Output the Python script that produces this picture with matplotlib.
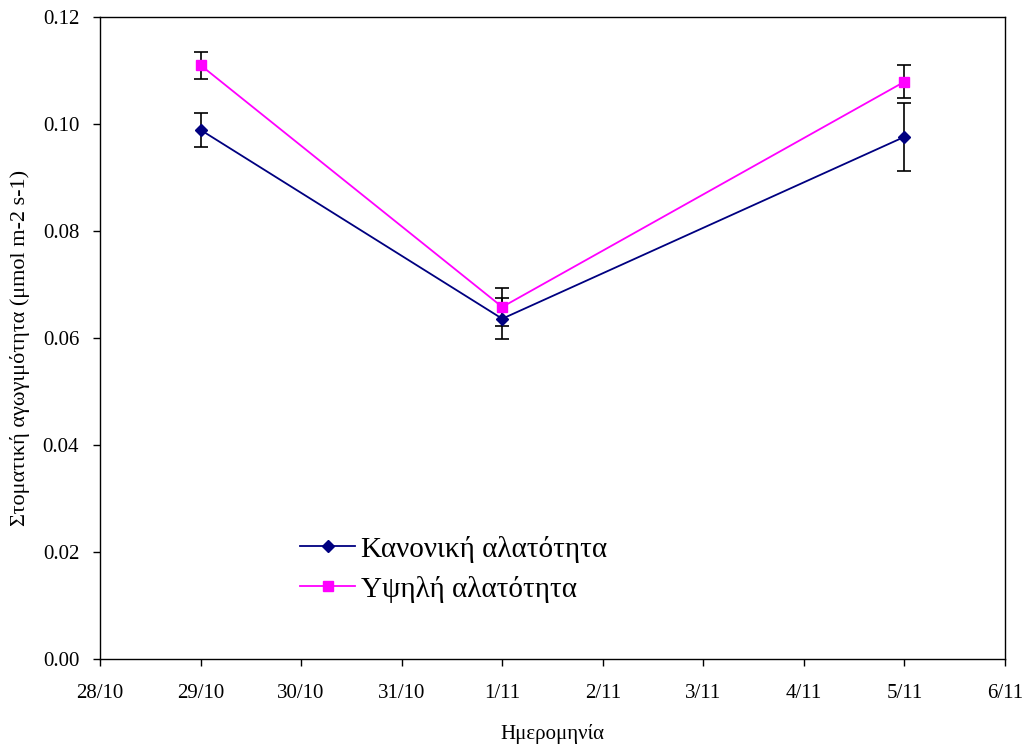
import pandas as pd
import matplotlib.pyplot as plt
import matplotlib.dates as mdates
from matplotlib.lines import Line2D
from matplotlib.ticker import FuncFormatter, MultipleLocator

# Data
dates = pd.to_datetime(["2008-10-29", "2008-11-01", "2008-11-05"])
normal = [0.0989, 0.0636, 0.0976]
normal_err = [0.0032, 0.0038, 0.0064]
high = [0.1110, 0.0658, 0.1079]
high_err = [0.0025, 0.0036, 0.0031]
labels = ["Κανονική αλατότητα", "Υψηλή αλατότητα"]

plt.rcParams["font.family"] = ["Liberation Serif", "DejaVu Serif"]

fig = plt.figure(figsize=(10.27, 7.47), dpi=100)
ax = fig.add_axes([100 / 1027, 1 - 659 / 747, 905 / 1027, 642 / 747])

blue, pink = "#000080", "#ff00ff"
ax.errorbar(dates, normal, yerr=normal_err, color=blue, marker="D",
            markersize=6, linewidth=1.3, ecolor="black", elinewidth=1.2,
            capsize=5, capthick=1.2)
ax.errorbar(dates, high, yerr=high_err, color=pink, marker="s",
            markersize=7, linewidth=1.3, ecolor="black", elinewidth=1.2,
            capsize=5, capthick=1.2)

ax.set_xlim(pd.Timestamp("2008-10-28"), pd.Timestamp("2008-11-06"))
ax.set_ylim(0, 0.12)
ax.xaxis.set_major_locator(mdates.DayLocator())
ax.xaxis.set_major_formatter(
    FuncFormatter(lambda x, pos: f"{mdates.num2date(x).day}/{mdates.num2date(x).month}"))
ax.yaxis.set_major_locator(MultipleLocator(0.02))
ax.yaxis.set_major_formatter(FuncFormatter(lambda v, pos: f"{v:.2f}"))

ax.tick_params(axis="both", direction="out", length=5, width=1, labelsize=15)
ax.tick_params(axis="x", pad=13)
ax.tick_params(axis="y", pad=10)
for s in ax.spines.values():
    s.set_linewidth(1)
    s.set_color("black")

ax.set_xlabel("Ημερομηνία", fontsize=15, labelpad=15)
ax.set_ylabel("Στοματική αγωγιμότητα (μmol m-2 s-1)", fontsize=16)
ax.yaxis.set_label_coords(-0.077, 0.485)

# legend without the error bars in the handles
handles = [
    Line2D([], [], color=blue, marker="D", markersize=6, linewidth=1.3),
    Line2D([], [], color=pink, marker="s", markersize=7, linewidth=1.3),
]
ax.legend(handles, labels, loc="center left", bbox_to_anchor=(0.221, 0.14),
          frameon=False, fontsize=21, borderpad=0, borderaxespad=0,
          handlelength=1.9, handletextpad=0.2, labelspacing=0.45)

fig.savefig("out.png", dpi=100)
